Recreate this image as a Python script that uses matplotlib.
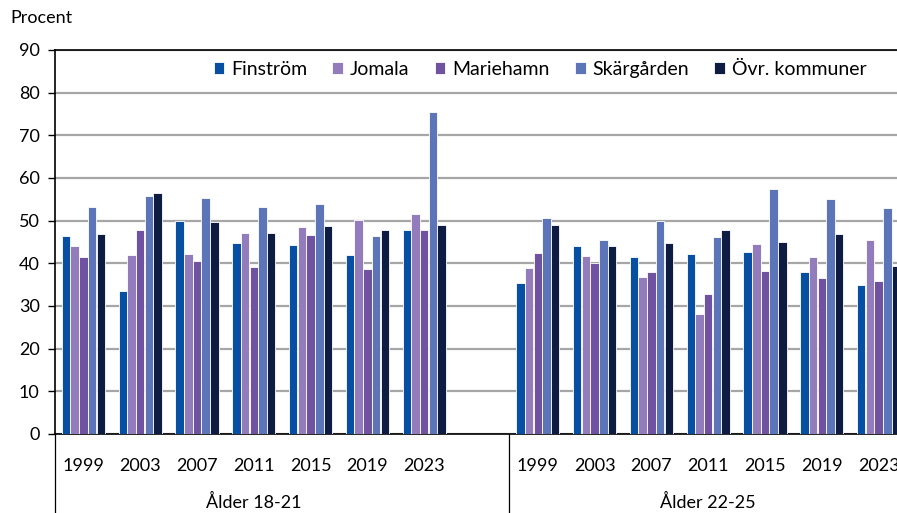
import numpy as np
import matplotlib
matplotlib.use("Agg")
import matplotlib.pyplot as plt
from matplotlib.lines import Line2D

plt.rcParams['font.family'] = ['Lato', 'DejaVu Sans']

# =============================================================================
# * Data (procent)
# =============================================================================

years = ["1999", "2003", "2007", "2011", "2015", "2019", "2023"]
groups = ["Ålder 18-21", "Ålder 22-25"]
series = ["Finström", "Jomala", "Mariehamn", "Skärgården", "Övr. kommuner"]
colors = ["#064fa3", "#927cbb", "#6f52a0", "#5c74b8", "#0e1c42"]

finstrom_1821 = [46.4, 33.5, 49.9, 44.8, 44.4, 42.0, 47.9]
jomala_1821 = [44.0, 42.0, 42.1, 47.0, 48.6, 50.2, 51.5]
mariehamn_1821 = [41.6, 47.7, 40.5, 39.2, 46.7, 38.6, 47.8]
skargarden_1821 = [53.2, 55.7, 55.4, 53.1, 53.8, 46.3, 75.4]
ovr_1821 = [46.9, 56.6, 49.7, 47.0, 48.7, 47.7, 49.0]

finstrom_2225 = [35.3, 44.0, 41.6, 42.1, 42.6, 38.0, 34.9]
jomala_2225 = [39.0, 41.8, 36.7, 28.2, 44.6, 41.6, 45.4]
mariehamn_2225 = [42.5, 40.0, 37.9, 32.9, 38.3, 36.6, 35.8]
skargarden_2225 = [50.6, 45.4, 49.9, 46.2, 57.4, 55.0, 53.0]
ovr_2225 = [48.9, 44.1, 44.7, 47.7, 45.1, 46.9, 39.3]

values_1821 = [finstrom_1821, jomala_1821, mariehamn_1821, skargarden_1821, ovr_1821]
values_2225 = [finstrom_2225, jomala_2225, mariehamn_2225, skargarden_2225, ovr_2225]

# =============================================================================
# * Plot
# =============================================================================

fig = plt.figure(figsize=(8.97, 5.13), dpi=100)
# axes runs a bit past the right edge of the figure on purpose
ax = fig.add_axes([55 / 897, 79 / 513, 852 / 897, 384 / 513])

n = len(years)
x1 = np.arange(n)                 # slots 0..6
x2 = np.arange(n) + n + 1         # slots 8..14 (slot 7 left empty)
pitch = 0.153
width = 0.15

for i, name in enumerate(series):
    off = (i - 2) * pitch
    ax.bar(x1 + off, values_1821[i], width, color=colors[i], edgecolor="white",
           linewidth=0.6, label=name, zorder=3)
    ax.bar(x2 + off, values_2225[i], width, color=colors[i], edgecolor="white",
           linewidth=0.6, zorder=3)

ax.set_xlim(-0.5, 2 * n + 0.5)
ax.set_ylim(0, 90)
ax.set_yticks(range(0, 91, 10))
ax.yaxis.grid(True, color="#a6a6a6", linewidth=1.6, zorder=0)
ax.set_axisbelow(True)

ax.set_xticks(np.concatenate([x1, x2]))
ax.set_xticklabels(years + years, fontsize=13)
ax.tick_params(axis="x", length=0, pad=17)
ax.tick_params(axis="y", length=5, width=1, pad=6, labelsize=13, direction="out")

for sp in ["top", "left", "bottom"]:
    ax.spines[sp].set_color("black")
    ax.spines[sp].set_linewidth(1.2)
ax.spines["right"].set_visible(False)

# group labels and separators under the axis
ybot = -79 / 384
for xs in [-0.5, n + 0.5]:
    ax.add_line(Line2D([xs, xs], [0, ybot], transform=ax.get_xaxis_transform(),
                       color="black", linewidth=0.9, clip_on=False))
trans = ax.get_xaxis_transform()
ax.text(x1.mean(), -68 / 384, groups[0], transform=trans, ha="center", va="center", fontsize=13)
ax.text(x2.mean(), -68 / 384, groups[1], transform=trans, ha="center", va="center", fontsize=13)

fig.text(10 / 897, 1 - 18 / 513, "Procent", ha="left", va="center", fontsize=13)

ax.legend(loc="center", bbox_to_anchor=(540 / 897, 1 - 69 / 513), bbox_transform=fig.transFigure,
          ncol=5, frameon=False, fontsize=14, handlelength=0.55, handleheight=0.55,
          handletextpad=0.35, columnspacing=1.3)

fig.savefig("out.png", dpi=100)
